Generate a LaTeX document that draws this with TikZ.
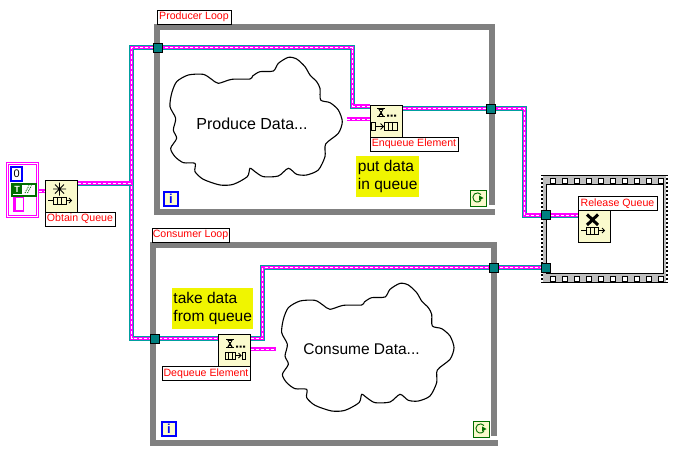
\documentclass[tikz,border=0pt]{standalone}
\usepackage{fontspec}
\setmainfont{Liberation Sans}
\definecolor{wireteal}{RGB}{0,160,160}
\definecolor{qmag}{RGB}{255,0,255}
\definecolor{loopgray}{RGB}{128,128,128}
\definecolor{iconbg}{RGB}{250,250,205}
\definecolor{noteyel}{RGB}{240,245,0}
\definecolor{tunnel}{RGB}{0,128,128}
\definecolor{lvgreen}{RGB}{0,110,0}
\definecolor{lvblue}{RGB}{0,0,255}
\pgfdeclarelayer{bg}
\pgfdeclarelayer{wires}
\pgfsetlayers{bg,wires,main}
\tikzset{
  x=1pt,y=-1pt,
  loopbar/.style={draw=loopgray,line width=6pt,line cap=butt},
  redlabel/.style={draw=black,fill=white,line width=1pt,text=red,inner sep=0pt,anchor=north west,minimum height=14pt,font=\fontsize{10.6}{13}\selectfont},
  icon/.style={draw=black,fill=iconbg,line width=1pt,minimum width=32pt,minimum height=32pt,inner sep=0pt,anchor=north west},
  tunnelnode/.style={draw=black,fill=tunnel,line width=1pt,minimum width=9pt,minimum height=9pt,inner sep=0pt},
  note/.style={fill=noteyel,inner sep=0pt,anchor=north west,font=\fontsize{15.5}{18}\selectfont,align=left},
  cloudtext/.style={inner sep=0pt},
  qwire/.style={draw=wireteal,line width=5pt,line cap=butt,line join=miter,
     postaction={draw=qmag,line width=3.2pt,solid},
     postaction={draw=white,line width=1pt,dash pattern=on 3pt off 2pt}},
  dwire/.style={draw=qmag,line width=3.4pt,postaction={draw=white,line width=1pt,dash pattern=on 3pt off 2pt}},
  cloudline/.style={draw=black,line width=1.1pt},
  iterbox/.style={draw=lvblue,fill=iconbg,line width=2pt,minimum width=14pt,minimum height=14pt,inner sep=0pt,anchor=north west,text=lvblue,font=\bfseries\fontsize{13}{13}\selectfont},
  condbox/.style={draw=lvgreen,fill=iconbg,line width=1pt,minimum width=16pt,minimum height=16pt,inner sep=0pt,anchor=north west},
  glyph/.style={draw=black,line width=.9pt},
}
\newcommand{\cloudpts}{(30,170) (35,130) (50,95) (85,75) (130,73) (155,88) (175,100) (215,88) (270,87) (278,78) (300,65) (340,63) (355,40) (385,22) (410,27) (435,50) (450,75) (470,95) (480,115) (482,150) (510,158) (535,180) (547,215) (535,250) (497,282) (495,320) (475,360) (440,375) (410,373) (385,355) (355,378) (310,380) (285,365) (270,355) (262,380) (220,403) (180,405) (130,388) (105,365) (105,340) (70,338) (45,320) (32,295) (50,265) (40,240) (47,205)}
\newcommand{\hourglass}[2]{% top-left corner
  \draw[glyph] (#1,#2) -- ++(8,0) (#1,#2+8) -- ++(8,0);
  \fill (#1+1,#2) -- (#1+7,#2) -- (#1+4.6,#2+4) -- (#1+7,#2+8) -- (#1+1,#2+8) -- (#1+3.4,#2+4) -- cycle;
  \fill[iconbg] (#1+2.8,#2+1) rectangle (#1+5.2,#2+2);
  \fill[iconbg] (#1+2.8,#2+6) rectangle (#1+5.2,#2+7);
  \fill (#1+10,#2+6) rectangle +(2,2) (#1+13.5,#2+6) rectangle +(2,2) (#1+17,#2+6) rectangle +(2,2);
}
\newcommand{\queuebox}[4]{% x, y, width, height
  \draw[glyph] (#1,#2) rectangle (#1+#3,#2+#4)
    (#1+#3/3,#2) -- (#1+#3/3,#2+#4) (#1+2*#3/3,#2) -- (#1+2*#3/3,#2+#4);
}
\begin{document}
\begin{tikzpicture}
\useasboundingbox (0,0) rectangle (676,453);

\begin{pgfonlayer}{bg}
\fill[white] (0,0) rectangle (676,453);
% clouds
\draw[cloudline,shift={(160,50)},xscale=.3333,yscale=.3333] plot[smooth cycle,tension=.45] coordinates {\cloudpts};
\draw[cloudline,shift={(271.7,276)},xscale=.3333,yscale=.3333] plot[smooth cycle,tension=.45] coordinates {\cloudpts};
% producer loop
\draw[loopbar] (154,27) -- (492,27) -- (492,205);
\draw[loopbar] (157,24) -- (157,212) -- (495,212);
% consumer loop
\draw[loopbar] (150,245) -- (497,245);
\draw[loopbar] (494,245) -- (494,436);
\draw[loopbar] (153,242) -- (153,443) -- (498,443);
% sequence frame
\fill[black] (541,175) rectangle (668,283);
\fill[gray!50] (543,176) rectangle (666,282);
\fill[white] (546,184) rectangle (663,273);
\draw[line width=1pt] (546,184) rectangle (663,273);
\draw[white,line width=2pt,dash pattern=on 2pt off 2pt] (542,176) -- (542,283);
\draw[white,line width=2pt,dash pattern=on 2pt off 2pt] (667,176) -- (667,283);
\foreach \i in {0,...,9}{
  \draw[fill=white,line width=.8pt] (550+12*\i,178) rectangle +(5,5);
  \draw[fill=white,line width=.8pt] (550+12*\i,276) rectangle +(5,5);
}
\end{pgfonlayer}

\node[cloudtext,font=\fontsize{16}{18}\selectfont] (prodtxt) at (252,124) {Produce Data...};
\node[cloudtext,font=\fontsize{15.5}{18}\selectfont] (constxt) at (361.5,349) {Consume Data...};

% yellow notes
\node[note,minimum width=63pt,minimum height=41pt] (putnote) at (356,156) {put data\\in queue};
\node[note,minimum width=81pt,minimum height=41pt] (takenote) at (172,288) {take data\\from queue};

% nodes
\node[icon] (obtain) at (44.5,179.5) {};
\node[icon] (enq) at (369.5,104.5) {};
\node[icon] (deq) at (217.5,334) {};
\node[icon] (rel) at (577.5,210) {};
\node[redlabel,minimum width=70pt] (obtainL) at (44.5,211.5) {Obtain Queue};
\node[redlabel,minimum width=88pt] (enqL) at (369.5,136.5) {Enqueue Element};
\node[redlabel,minimum width=88pt] (deqL) at (161.5,366) {Dequeue Element};
\node[redlabel,minimum width=79pt] (relL) at (577.5,196) {Release Queue};
\node[redlabel,minimum width=74pt] (prodL) at (156.5,9.5) {Producer Loop};
\node[redlabel,minimum width=77pt] (consL) at (151.5,227.5) {Consumer Loop};

% tunnels
\node[tunnelnode] (t1) at (158,47.5) {};
\node[tunnelnode] (t2) at (490.5,108.5) {};
\node[tunnelnode] (t3) at (154.5,338.5) {};
\node[tunnelnode] (t4) at (493.5,267.5) {};
\node[tunnelnode] (t5) at (545.5,215) {};
\node[tunnelnode] (t6) at (545.5,267.5) {};

% cluster
\node[draw=qmag,line width=1pt,fill=white,minimum width=32pt,minimum height=55pt,inner sep=0pt,anchor=north west] (cluster) at (6,162) {};
\draw[qmag,line width=1pt] (8,164) rectangle (36,215);
\node[draw=lvblue,line width=2.4pt,fill=white,minimum width=11pt,minimum height=14pt,inner sep=0pt,anchor=north west,font=\fontsize{11}{11}\selectfont] (num) at (10,166) {0};
\node[draw=lvgreen,line width=2.4pt,fill=white,minimum width=24pt,minimum height=12pt,inner sep=0pt,anchor=north west] (bool) at (10.5,183) {};
\node[fill=lvgreen,text=white,minimum width=10pt,minimum height=9pt,inner sep=0pt,font=\bfseries\fontsize{9}{9}\selectfont] (boolT) at (17,189) {T};
\draw[lvgreen,line width=.9pt,dash pattern=on 1pt off 1pt] (25,193) -- (29,185.5);
\draw[lvgreen,line width=.9pt,dash pattern=on 1pt off 1pt] (27.5,193) -- (31.5,185.5);
\node[fill=qmag,minimum width=11pt,minimum height=15pt,inner sep=0pt,anchor=north west] (strbox) at (12.7,197) {};
\fill[white] (16,198) rectangle (23,210);

% terminals
\node[iterbox] (ip) at (163,191) {i};
\node[iterbox] (ic) at (161,421) {i};
\node[condbox] (cp) at (469.5,189.5) {};
\node[condbox] (cc) at (472.5,420.5) {};
\foreach \n in {cp,cc}{
  \draw[lvgreen,line width=.9pt] ([shift={(3pt,3.5pt)}]\n.center) arc (40:320:4.6pt);
  \fill[lvgreen] ([shift={(1pt,2.6pt)}]\n.center) -- ++(4.5pt,-2.6pt) -- ++(-4.5pt,-2.6pt) -- cycle;
}

% connectors
\begin{pgfonlayer}{wires}
\draw[dwire] (cluster.east |- 0,191) -- (obtain.west |- 0,191);
\coordinate (busT) at (131.5,183);
\draw[qwire] (enq.west |- 0,106) -- (352.5,106) -- (352.5,47.5) -- (t1.center) -- (131.5,47.5) -- (131.5,338.5) -- (t3.center) -- (deq.west |- 0,338.5);
\draw[qwire] (obtain.east |- 0,183) -- (busT);
\draw[qwire] (deq.east |- 0,338.5) -- (262.5,338.5) -- (262.5,267.5) -- (t4.center) -- (t6.center);
\draw[qwire] (enq.east |- 0,108.5) -- (t2.center) -- (524.5,108.5) -- (524.5,215) -- (t5.center) -- (rel.west |- 0,215);
\draw[dwire] (enq.west |- 0,119) -- (347,119);
\draw[dwire] (deq.east |- 0,349) -- (276,349);
\end{pgfonlayer}

% icon glyphs: obtain
\queuebox{53.5}{197}{12.5}{7}
\draw[glyph] (48,200.5) -- (53.5,200.5) (66,200.5) -- (71.5,200.5) (69,198) -- (71.5,200.5) -- (69,203);
\draw[glyph] (55,184.5) -- (64,193.5) (64,184.5) -- (55,193.5) (59.5,182.5) -- (59.5,195.5) (53,189) -- (66,189);
% enqueue
\hourglass{377}{108.5}
\draw[glyph] (371.5,122.5) rectangle (375.5,130.5);
\draw[glyph] (375.5,126.5) -- (383.5,126.5) (380.5,123.5) -- (383.5,126.5) -- (380.5,129.5);
\queuebox{384.5}{122.5}{12.5}{8}
% dequeue
\hourglass{226}{339.5}
\queuebox{225}{352}{10.5}{7.5}
\draw[glyph] (235.5,355.5) -- (241,355.5) (238.5,353) -- (241,355.5) -- (238.5,358);
\draw[glyph] (242,352) rectangle (245.5,359.5);
% release
\queuebox{586}{227}{12}{7}
\draw[glyph] (581,230.5) -- (586,230.5) (598,230.5) -- (604.5,230.5) (602,228) -- (604.5,230.5) -- (602,233);
\draw[line width=3pt] (587,214.5) -- (598,225) (598,214.5) -- (587,225);
\end{tikzpicture}
\end{document}
